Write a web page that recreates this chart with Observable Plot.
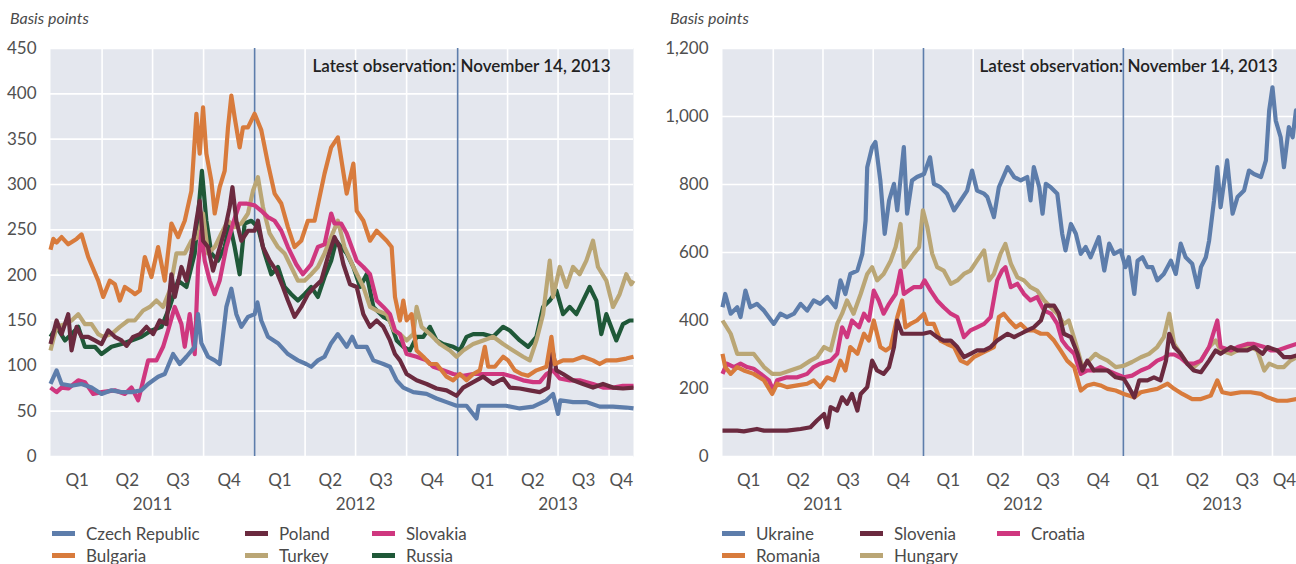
<!DOCTYPE html>
<html><head><meta charset="utf-8">
<script src="https://cdn.jsdelivr.net/npm/d3@7"></script>
<script src="https://cdn.jsdelivr.net/npm/@observablehq/plot@0.6"></script>
<style>
body{margin:0;background:#fff;font-family:Lato,"Open Sans",sans-serif;}
#wrap{position:relative;width:1296px;height:564px;overflow:hidden;background:#fff}
.panel{position:absolute;top:0;width:648px;height:564px}
.unit{position:absolute;top:8px;font-style:italic;font-size:16px;color:#4a4a4a}
.legend{position:absolute;top:522px;display:grid;grid-auto-flow:row;row-gap:0px;font-size:17px;color:#4a4a4a}
.item{display:flex;align-items:center;height:22px;white-space:nowrap}
.sw{display:inline-block;width:23px;height:5px;margin-right:11px}
</style></head><body>
<div id="wrap"></div>
<script>
// ---------- data ----------
const unitLabel = "Basis points";
const latestNote = "Latest observation: November 14, 2013";
const startDate = "2010-12-29";
const endDate = "2013-11-14";
const years = [2011, 2012, 2013];
const quarterNames = ["Q1", "Q2", "Q3", "Q4"];
const leftYTicks = [0, 50, 100, 150, 200, 250, 300, 350, 400, 450];
const rightYTicks = [0, 200, 400, 600, 800, 1000, 1200];

const czechRepublic = [["2010-12-29",80],["2011-01-09",95],["2011-01-18",80],["2011-02-05",78],["2011-02-23",80],["2011-03-13",76],["2011-03-31",69],["2011-04-18",73],["2011-05-06",71],["2011-05-24",71],["2011-06-11",73],["2011-06-23",80],["2011-07-11",88],["2011-07-23",91],["2011-08-07",113],["2011-08-19",102],["2011-08-31",110],["2011-09-15",121],["2011-09-21",157],["2011-09-27",125],["2011-10-09",110],["2011-10-21",106],["2011-10-30",102],["2011-11-11",165],["2011-11-20",185],["2011-11-29",157],["2011-12-08",143],["2011-12-20",154],["2012-01-01",157],["2012-01-06",170],["2012-01-13",150],["2012-01-25",132],["2012-02-12",125],["2012-03-01",113],["2012-03-19",106],["2012-04-03",102],["2012-04-12",99],["2012-04-24",106],["2012-05-06",110],["2012-05-18",125],["2012-05-30",135],["2012-06-15",121],["2012-06-25",132],["2012-07-03",121],["2012-07-21",121],["2012-08-02",106],["2012-08-20",102],["2012-09-01",99],["2012-09-13",84],["2012-09-25",76],["2012-10-13",71],["2012-11-06",69],["2012-11-24",64],["2012-12-12",60],["2012-12-30",56],["2013-01-17",56],["2013-02-04",42],["2013-02-08",56],["2013-03-06",56],["2013-03-29",56],["2013-04-23",53],["2013-05-17",55],["2013-06-10",62],["2013-06-22",69],["2013-07-01",47],["2013-07-05",62],["2013-07-28",60],["2013-08-21",60],["2013-09-14",55],["2013-10-08",55],["2013-11-01",54],["2013-11-14",53]];

const bulgaria = [["2010-12-29",228],["2011-01-03",240],["2011-01-09",236],["2011-01-18",242],["2011-01-30",234],["2011-02-14",240],["2011-02-23",245],["2011-03-07",220],["2011-03-25",194],["2011-04-03",176],["2011-04-15",194],["2011-04-24",190],["2011-05-03",172],["2011-05-12",187],["2011-05-24",182],["2011-05-30",179],["2011-06-08",183],["2011-06-17",220],["2011-06-29",198],["2011-07-11",231],["2011-07-23",194],["2011-08-04",257],["2011-08-16",242],["2011-08-28",260],["2011-09-09",293],["2011-09-18",378],["2011-09-24",334],["2011-09-30",385],["2011-10-06",334],["2011-10-15",304],["2011-10-21",268],["2011-10-30",297],["2011-11-08",315],["2011-11-14",363],["2011-11-20",398],["2011-11-26",374],["2011-12-05",341],["2011-12-11",363],["2011-12-20",363],["2012-01-01",378],["2012-01-13",360],["2012-01-25",323],["2012-02-06",290],["2012-02-18",279],["2012-03-01",253],["2012-03-13",231],["2012-03-25",238],["2012-04-06",260],["2012-04-18",260],["2012-05-06",312],["2012-05-18",341],["2012-05-30",352],["2012-06-15",290],["2012-06-27",323],["2012-07-03",271],["2012-07-15",260],["2012-07-27",238],["2012-08-08",249],["2012-08-26",238],["2012-09-04",231],["2012-09-10",176],["2012-09-19",150],["2012-09-25",172],["2012-10-01",150],["2012-10-10",157],["2012-10-19",117],["2012-10-31",110],["2012-11-12",102],["2012-11-24",102],["2012-12-12",88],["2012-12-24",84],["2013-01-05",91],["2013-01-17",84],["2013-01-29",91],["2013-02-10",95],["2013-02-19",121],["2013-02-25",99],["2013-03-09",99],["2013-03-24",110],["2013-04-02",106],["2013-04-14",95],["2013-04-26",91],["2013-05-08",89],["2013-05-23",95],["2013-06-10",99],["2013-06-19",132],["2013-06-25",102],["2013-07-10",106],["2013-07-28",106],["2013-08-15",110],["2013-09-02",106],["2013-09-14",102],["2013-09-26",106],["2013-10-14",106],["2013-11-01",108],["2013-11-14",110]];

const poland = [["2010-12-29",124],["2011-01-09",150],["2011-01-18",135],["2011-01-30",157],["2011-02-05",117],["2011-02-14",143],["2011-02-23",132],["2011-03-07",132],["2011-03-19",128],["2011-03-31",124],["2011-04-12",139],["2011-04-24",132],["2011-05-06",128],["2011-05-15",122],["2011-05-27",132],["2011-06-08",135],["2011-06-20",143],["2011-07-02",135],["2011-07-14",150],["2011-07-26",146],["2011-08-04",201],["2011-08-10",176],["2011-08-22",209],["2011-08-31",194],["2011-09-09",224],["2011-09-18",260],["2011-09-24",282],["2011-09-30",238],["2011-10-09",231],["2011-10-18",205],["2011-10-27",224],["2011-11-08",249],["2011-11-17",275],["2011-11-22",297],["2011-11-29",260],["2011-12-08",238],["2011-12-20",249],["2012-01-01",249],["2012-01-07",260],["2012-01-16",231],["2012-01-28",216],["2012-02-09",205],["2012-02-21",187],["2012-03-01",172],["2012-03-13",154],["2012-03-25",165],["2012-04-06",179],["2012-04-18",187],["2012-04-30",194],["2012-05-12",220],["2012-05-24",242],["2012-06-02",231],["2012-06-09",212],["2012-06-21",190],["2012-07-03",187],["2012-07-15",157],["2012-07-27",143],["2012-08-08",150],["2012-08-20",143],["2012-09-01",128],["2012-09-10",113],["2012-09-19",106],["2012-10-01",91],["2012-10-19",84],["2012-11-06",80],["2012-11-24",75],["2012-12-12",73],["2012-12-30",67],["2013-01-11",76],["2013-01-29",82],["2013-02-16",88],["2013-03-06",80],["2013-03-24",86],["2013-04-05",76],["2013-04-23",75],["2013-05-11",73],["2013-05-29",71],["2013-06-13",76],["2013-06-21",117],["2013-06-28",95],["2013-07-10",91],["2013-07-28",84],["2013-08-15",80],["2013-09-02",76],["2013-09-20",80],["2013-10-08",76],["2013-10-26",75],["2013-11-14",76]];

const turkey = [["2010-12-29",117],["2011-01-09",143],["2011-01-24",146],["2011-02-05",150],["2011-02-17",157],["2011-03-01",146],["2011-03-13",146],["2011-03-25",135],["2011-04-03",132],["2011-04-18",135],["2011-05-03",143],["2011-05-18",150],["2011-05-30",150],["2011-06-14",161],["2011-06-26",165],["2011-07-08",172],["2011-07-20",165],["2011-08-01",183],["2011-08-13",224],["2011-08-28",224],["2011-09-09",238],["2011-09-21",242],["2011-09-30",268],["2011-10-09",224],["2011-10-21",231],["2011-11-02",246],["2011-11-14",260],["2011-11-26",253],["2011-12-08",257],["2011-12-20",268],["2011-12-29",293],["2012-01-07",308],["2012-01-16",275],["2012-01-28",246],["2012-02-12",231],["2012-02-24",224],["2012-03-07",209],["2012-03-19",194],["2012-03-31",194],["2012-04-12",201],["2012-04-24",209],["2012-05-06",224],["2012-05-18",242],["2012-05-30",260],["2012-06-11",231],["2012-06-27",209],["2012-07-15",187],["2012-07-27",165],["2012-08-08",161],["2012-08-26",157],["2012-09-08",139],["2012-09-19",135],["2012-10-01",128],["2012-10-13",135],["2012-10-19",165],["2012-10-28",143],["2012-11-12",135],["2012-11-30",124],["2012-12-18",117],["2012-12-30",110],["2013-01-11",117],["2013-01-29",124],["2013-02-16",128],["2013-03-06",132],["2013-03-24",124],["2013-04-11",117],["2013-04-29",110],["2013-05-11",106],["2013-05-23",128],["2013-06-04",157],["2013-06-16",216],["2013-06-22",176],["2013-07-04",209],["2013-07-16",187],["2013-07-28",209],["2013-08-09",201],["2013-08-21",216],["2013-09-02",238],["2013-09-11",209],["2013-09-26",194],["2013-10-08",165],["2013-10-20",179],["2013-11-01",201],["2013-11-10",190],["2013-11-14",194]];

const slovakia = [["2010-12-29",76],["2011-01-09",71],["2011-01-18",76],["2011-01-30",75],["2011-02-17",84],["2011-03-01",82],["2011-03-16",69],["2011-03-31",71],["2011-04-24",73],["2011-05-12",69],["2011-05-24",76],["2011-06-05",62],["2011-06-11",76],["2011-06-23",106],["2011-07-08",106],["2011-07-20",121],["2011-07-29",139],["2011-08-10",165],["2011-08-22",146],["2011-08-28",121],["2011-09-06",157],["2011-09-15",113],["2011-09-21",209],["2011-09-27",249],["2011-10-03",216],["2011-10-12",194],["2011-10-21",179],["2011-10-30",194],["2011-11-11",231],["2011-11-23",257],["2011-12-05",279],["2011-12-17",279],["2012-01-01",277],["2012-01-13",271],["2012-01-25",264],["2012-02-06",260],["2012-02-18",249],["2012-03-01",231],["2012-03-16",212],["2012-03-28",201],["2012-04-12",212],["2012-04-24",231],["2012-05-06",234],["2012-05-18",268],["2012-05-24",257],["2012-06-05",257],["2012-06-15",246],["2012-07-03",216],["2012-07-15",209],["2012-07-27",201],["2012-08-08",172],["2012-08-20",165],["2012-09-01",157],["2012-09-10",139],["2012-09-19",135],["2012-10-01",113],["2012-10-19",110],["2012-11-06",106],["2012-11-18",99],["2012-12-07",95],["2012-12-24",91],["2013-01-11",89],["2013-01-29",91],["2013-02-16",91],["2013-03-06",91],["2013-03-24",91],["2013-04-11",88],["2013-04-29",84],["2013-05-17",82],["2013-05-29",82],["2013-06-10",91],["2013-06-22",95],["2013-07-04",86],["2013-07-22",84],["2013-08-09",84],["2013-09-02",80],["2013-09-20",76],["2013-10-08",76],["2013-10-26",78],["2013-11-14",78]];

const russia = [["2010-12-29",132],["2011-01-09",143],["2011-01-24",128],["2011-02-05",135],["2011-02-17",143],["2011-03-01",121],["2011-03-19",121],["2011-03-31",113],["2011-04-18",121],["2011-05-06",124],["2011-05-24",128],["2011-06-11",132],["2011-06-29",139],["2011-07-17",143],["2011-08-01",165],["2011-08-16",194],["2011-08-31",187],["2011-09-15",224],["2011-09-28",315],["2011-10-06",260],["2011-10-15",224],["2011-10-27",216],["2011-11-08",231],["2011-11-17",257],["2011-11-26",231],["2011-12-05",201],["2011-12-14",257],["2011-12-26",260],["2012-01-07",253],["2012-01-19",224],["2012-01-31",201],["2012-02-12",209],["2012-02-24",187],["2012-03-07",179],["2012-03-19",172],["2012-03-31",179],["2012-04-12",187],["2012-04-24",176],["2012-05-06",198],["2012-05-18",216],["2012-05-27",238],["2012-06-05",231],["2012-06-15",224],["2012-06-27",209],["2012-07-09",187],["2012-07-21",201],["2012-08-02",165],["2012-08-20",154],["2012-09-01",150],["2012-09-13",128],["2012-09-25",121],["2012-10-07",117],["2012-10-19",132],["2012-10-31",132],["2012-11-12",143],["2012-11-24",128],["2012-12-06",124],["2012-12-24",121],["2013-01-05",117],["2013-01-17",132],["2013-01-29",135],["2013-02-16",135],["2013-03-06",132],["2013-03-24",143],["2013-04-05",139],["2013-04-23",128],["2013-05-08",121],["2013-05-23",132],["2013-06-04",165],["2013-06-16",172],["2013-06-28",183],["2013-07-10",157],["2013-07-22",165],["2013-08-03",157],["2013-08-15",172],["2013-08-27",187],["2013-09-08",172],["2013-09-17",135],["2013-09-26",157],["2013-10-14",128],["2013-10-26",146],["2013-11-07",150],["2013-11-14",150]];

const ukraine = [["2010-12-29",439],["2011-01-03",478],["2011-01-13",420],["2011-01-25",439],["2011-01-31",410],["2011-02-09",488],["2011-02-18",439],["2011-03-02",449],["2011-03-15",429],["2011-04-02",390],["2011-04-14",420],["2011-04-26",410],["2011-05-09",420],["2011-05-21",449],["2011-06-02",429],["2011-06-14",459],["2011-06-26",449],["2011-07-09",469],["2011-07-24",439],["2011-08-02",518],["2011-08-11",478],["2011-08-20",537],["2011-09-02",547],["2011-09-11",596],["2011-09-17",694],["2011-09-20",851],["2011-09-29",910],["2011-10-05",925],["2011-10-14",812],["2011-10-22",655],["2011-10-30",753],["2011-11-08",802],["2011-11-14",724],["2011-11-26",910],["2011-12-02",714],["2011-12-11",812],["2011-12-20",822],["2012-01-02",831],["2012-01-13",880],["2012-01-20",802],["2012-02-01",792],["2012-02-13",773],["2012-02-26",724],["2012-03-09",753],["2012-03-21",782],["2012-03-30",841],["2012-04-08",782],["2012-04-21",773],["2012-04-27",763],["2012-05-09",704],["2012-05-18",792],["2012-06-03",851],["2012-06-15",822],["2012-06-27",812],["2012-07-09",822],["2012-07-15",753],["2012-07-21",851],["2012-07-31",792],["2012-08-06",714],["2012-08-12",802],["2012-08-21",792],["2012-09-02",773],["2012-09-11",655],["2012-09-17",606],["2012-09-27",684],["2012-10-06",655],["2012-10-15",596],["2012-10-24",616],["2012-11-02",586],["2012-11-17",645],["2012-11-27",547],["2012-12-06",626],["2012-12-15",596],["2012-12-27",606],["2013-01-05",557],["2013-01-11",586],["2013-01-21",478],["2013-01-27",576],["2013-02-05",586],["2013-02-14",557],["2013-02-23",557],["2013-03-04",518],["2013-03-16",537],["2013-03-29",576],["2013-04-07",537],["2013-04-16",626],["2013-04-25",586],["2013-05-07",567],["2013-05-17",498],["2013-05-23",557],["2013-06-01",586],["2013-06-07",635],["2013-06-16",753],["2013-06-22",851],["2013-06-28",733],["2013-07-10",871],["2013-07-20",714],["2013-07-29",763],["2013-08-10",782],["2013-08-19",841],["2013-08-28",831],["2013-09-10",822],["2013-09-19",871],["2013-09-25",1018],["2013-10-01",1086],["2013-10-07",988],["2013-10-16",939],["2013-10-22",851],["2013-10-31",969],["2013-11-07",939],["2013-11-13",1018],["2013-11-14",998]];

const romania = [["2010-12-29",302],["2011-01-03",263],["2011-01-13",243],["2011-01-25",263],["2011-02-06",253],["2011-02-24",243],["2011-03-15",224],["2011-03-30",184],["2011-04-08",214],["2011-04-26",204],["2011-05-15",209],["2011-06-02",214],["2011-06-14",224],["2011-06-26",204],["2011-07-09",233],["2011-07-21",224],["2011-08-02",282],["2011-08-11",253],["2011-08-20",322],["2011-09-02",302],["2011-09-14",361],["2011-09-23",341],["2011-10-02",400],["2011-10-14",322],["2011-10-24",312],["2011-11-02",322],["2011-11-14",410],["2011-11-23",459],["2011-11-29",380],["2011-12-08",390],["2011-12-20",400],["2012-01-02",420],["2012-01-08",390],["2012-01-20",390],["2012-02-01",341],["2012-02-13",331],["2012-02-26",322],["2012-03-09",282],["2012-03-21",273],["2012-04-02",292],["2012-04-14",302],["2012-04-27",312],["2012-05-09",322],["2012-05-18",410],["2012-05-27",420],["2012-06-06",400],["2012-06-18",380],["2012-06-27",390],["2012-07-09",371],["2012-07-21",371],["2012-08-03",361],["2012-08-15",361],["2012-08-27",341],["2012-09-08",312],["2012-09-20",282],["2012-10-03",263],["2012-10-15",194],["2012-10-27",209],["2012-11-08",214],["2012-11-20",209],["2012-12-03",199],["2012-12-18",194],["2013-01-02",184],["2013-01-21",174],["2013-02-02",189],["2013-02-17",194],["2013-03-04",199],["2013-03-23",214],["2013-04-04",199],["2013-04-19",184],["2013-05-07",169],["2013-05-23",169],["2013-06-10",179],["2013-06-22",224],["2013-07-01",189],["2013-07-17",184],["2013-08-04",189],["2013-08-22",189],["2013-09-10",184],["2013-09-22",174],["2013-10-10",164],["2013-10-28",164],["2013-11-14",169]];

const slovenia = [["2010-12-29",76],["2011-01-25",76],["2011-02-06",74],["2011-03-02",81],["2011-03-15",76],["2011-04-02",76],["2011-04-26",76],["2011-05-21",81],["2011-06-08",86],["2011-06-20",106],["2011-07-03",125],["2011-07-09",86],["2011-07-15",145],["2011-07-27",135],["2011-08-05",174],["2011-08-14",155],["2011-08-23",184],["2011-09-02",135],["2011-09-08",184],["2011-09-20",204],["2011-09-29",282],["2011-10-08",253],["2011-10-20",243],["2011-10-30",263],["2011-11-08",322],["2011-11-14",400],["2011-11-23",361],["2011-12-02",361],["2011-12-14",361],["2011-12-31",361],["2012-01-14",366],["2012-01-26",351],["2012-02-07",341],["2012-02-20",341],["2012-03-03",322],["2012-03-15",292],["2012-03-27",302],["2012-04-08",312],["2012-04-21",312],["2012-05-03",322],["2012-05-15",341],["2012-06-03",361],["2012-06-15",351],["2012-06-27",361],["2012-07-09",371],["2012-07-21",380],["2012-08-03",400],["2012-08-12",444],["2012-08-27",444],["2012-09-05",420],["2012-09-14",361],["2012-09-27",351],["2012-10-09",302],["2012-10-18",253],["2012-10-27",282],["2012-11-08",253],["2012-11-20",253],["2012-12-03",253],["2012-12-18",233],["2013-01-02",228],["2013-01-11",204],["2013-01-21",174],["2013-01-30",224],["2013-02-14",224],["2013-02-26",233],["2013-03-10",224],["2013-03-20",282],["2013-03-26",361],["2013-04-04",322],["2013-04-16",302],["2013-04-28",273],["2013-05-10",253],["2013-05-23",248],["2013-06-07",282],["2013-06-19",312],["2013-06-28",302],["2013-07-17",322],["2013-07-29",312],["2013-08-16",312],["2013-08-28",322],["2013-09-13",302],["2013-09-22",322],["2013-10-10",312],["2013-10-22",292],["2013-11-03",292],["2013-11-14",297]];

const hungary = [["2010-12-29",400],["2011-01-13",361],["2011-01-25",302],["2011-02-06",302],["2011-02-24",302],["2011-03-15",263],["2011-03-30",243],["2011-04-14",243],["2011-05-02",253],["2011-05-21",263],["2011-06-08",282],["2011-06-20",292],["2011-07-03",322],["2011-07-15",312],["2011-07-27",390],["2011-08-05",420],["2011-08-14",459],["2011-08-26",420],["2011-09-08",478],["2011-09-20",537],["2011-09-29",557],["2011-10-08",518],["2011-10-20",537],["2011-11-02",576],["2011-11-11",616],["2011-11-20",684],["2011-11-26",557],["2011-12-05",576],["2011-12-14",596],["2011-12-24",616],["2011-12-31",724],["2012-01-08",675],["2012-01-17",596],["2012-01-26",557],["2012-02-07",547],["2012-02-20",508],["2012-03-03",518],["2012-03-15",537],["2012-03-27",547],["2012-04-08",576],["2012-04-21",606],["2012-04-30",518],["2012-05-09",537],["2012-05-21",596],["2012-05-30",625],["2012-06-09",567],["2012-06-21",527],["2012-07-03",518],["2012-07-15",498],["2012-07-27",488],["2012-08-09",459],["2012-08-21",439],["2012-09-02",420],["2012-09-14",390],["2012-09-23",400],["2012-10-06",331],["2012-10-18",263],["2012-10-30",282],["2012-11-11",302],["2012-11-20",292],["2012-12-03",282],["2012-12-18",263],["2013-01-02",267],["2013-01-17",278],["2013-02-02",292],["2013-02-17",302],["2013-03-04",322],["2013-03-16",351],["2013-03-26",420],["2013-04-04",331],["2013-04-16",302],["2013-04-28",273],["2013-05-10",263],["2013-05-23",282],["2013-06-07",322],["2013-06-19",341],["2013-06-28",312],["2013-07-17",302],["2013-07-29",312],["2013-08-10",322],["2013-08-22",322],["2013-09-03",312],["2013-09-16",253],["2013-09-25",273],["2013-10-10",263],["2013-10-22",263],["2013-11-03",282],["2013-11-14",292]];

const croatia = [["2010-12-29",243],["2011-01-06",273],["2011-01-19",263],["2011-01-31",273],["2011-02-12",263],["2011-02-24",258],["2011-03-09",243],["2011-03-24",224],["2011-04-01",194],["2011-04-08",224],["2011-04-26",233],["2011-05-15",233],["2011-06-02",243],["2011-06-14",263],["2011-06-26",273],["2011-07-15",282],["2011-07-27",302],["2011-08-05",380],["2011-08-14",351],["2011-08-23",400],["2011-09-05",380],["2011-09-14",420],["2011-09-23",400],["2011-10-02",488],["2011-10-11",459],["2011-10-20",420],["2011-10-30",449],["2011-11-11",478],["2011-11-20",547],["2011-11-26",478],["2011-12-05",488],["2011-12-14",498],["2011-12-27",498],["2012-01-03",518],["2012-01-14",488],["2012-01-26",459],["2012-02-07",439],["2012-02-20",420],["2012-03-03",410],["2012-03-15",351],["2012-03-27",371],["2012-04-08",380],["2012-04-21",390],["2012-05-03",410],["2012-05-15",518],["2012-05-24",547],["2012-05-30",557],["2012-06-09",498],["2012-06-21",508],["2012-07-03",478],["2012-07-15",459],["2012-07-27",469],["2012-08-09",429],["2012-08-21",420],["2012-09-02",390],["2012-09-11",341],["2012-09-20",322],["2012-10-03",302],["2012-10-15",243],["2012-10-27",253],["2012-11-08",253],["2012-11-20",263],["2012-12-03",253],["2012-12-18",243],["2013-01-02",233],["2013-01-17",238],["2013-02-02",253],["2013-02-17",263],["2013-03-04",282],["2013-03-16",290],["2013-03-26",300],["2013-04-04",300],["2013-04-16",290],["2013-04-28",273],["2013-05-10",273],["2013-05-23",282],["2013-06-07",322],["2013-06-22",400],["2013-06-28",322],["2013-07-17",312],["2013-07-29",322],["2013-08-16",331],["2013-08-28",331],["2013-09-16",322],["2013-09-28",312],["2013-10-10",312],["2013-10-28",322],["2013-11-14",331]];

// ---------- panels ----------
const leftSeries = [
  {name: "Czech Republic", values: czechRepublic},
  {name: "Poland", values: poland},
  {name: "Slovakia", values: slovakia},
  {name: "Bulgaria", values: bulgaria},
  {name: "Turkey", values: turkey},
  {name: "Russia", values: russia}
];
const rightSeries = [
  {name: "Ukraine", values: ukraine},
  {name: "Slovenia", values: slovenia},
  {name: "Croatia", values: croatia},
  {name: "Romania", values: romania},
  {name: "Hungary", values: hungary}
];

// ---------- styles ----------
const FONT = "Lato, 'Open Sans', sans-serif";
const BLUE = "#5d7dab";
const colors = {
  "Czech Republic": BLUE, "Ukraine": BLUE,
  "Bulgaria": "#d87b3c", "Romania": "#d87b3c",
  "Poland": "#6b2a3f", "Slovenia": "#6b2a3f",
  "Turkey": "#baa675", "Hungary": "#baa675",
  "Slovakia": "#cf377f", "Croatia": "#cf377f",
  "Russia": "#1f5838"
};
const leftDrawOrder = ["Russia", "Turkey", "Slovakia", "Poland", "Bulgaria", "Czech Republic"];
const rightDrawOrder = ["Hungary", "Croatia", "Romania", "Slovenia", "Ukraine"];

const d0 = new Date(startDate), d1 = new Date(endDate);
const utc = (y, m, d) => new Date(Date.UTC(y, m, d));
const quarterStarts = [], quarterTicks = [];
for (const y of years) {
  quarterNames.forEach((q, i) => {
    const s = utc(y, i * 3, 1), e = utc(y, i * 3 + 3, 1);
    if (s < d1 && i > 0) quarterStarts.push(s);
    const a = s < d0 ? d0 : s, b = e > d1 ? d1 : e;
    if (a < b) quarterTicks.push({date: new Date((+a + +b) / 2), label: q});
  });
}
const yearStarts = years.slice(1).map(y => utc(y, 0, 1)).filter(d => d < d1);
const yearTicks = years.map(y => ({date: utc(y, 6, 1), label: String(y)}));

function makePanel({series, order, yTicks, marginLeft, marginRight, noteDx}) {
  const byName = new Map(series.map(s => [s.name, s]));
  const lines = order.map(n => Plot.line(byName.get(n).values, {
    x: d => new Date(d[0]), y: d => d[1], stroke: colors[n], strokeWidth: 4.2,
    strokeLinejoin: "round", strokeLinecap: "butt"
  }));
  const fmt = d3.format(",");
  return Plot.plot({
    width: 648, height: 515,
    marginTop: 48, marginBottom: 59, marginLeft, marginRight,
    style: {fontFamily: FONT, fontSize: "17px", background: "transparent", overflow: "visible"},
    x: {type: "utc", domain: [d0, d1], axis: null},
    y: {domain: [0, yTicks[yTicks.length - 1]], axis: null},
    marks: [
      Plot.frame({fill: "#e4e7ee", stroke: null}),
      Plot.ruleY(yTicks, {stroke: "#ffffff", strokeWidth: 1.6}),
      Plot.ruleX(quarterStarts, {stroke: "#ffffff", strokeWidth: 1.6}),
      Plot.ruleX(yearStarts, {stroke: BLUE, strokeWidth: 1.6}),
      Plot.text(yTicks, {y: d => d, text: d => fmt(d), frameAnchor: "left", dx: -14, textAnchor: "end", fill: "#505050", fontSize: 17}),
      Plot.text(quarterTicks, {x: "date", text: "label", frameAnchor: "bottom", dy: 17, lineAnchor: "top", fill: "#505050", fontSize: 17}),
      Plot.text(yearTicks, {x: "date", text: "label", frameAnchor: "bottom", dy: 41, lineAnchor: "top", fill: "#505050", fontSize: 17}),
      ...lines,
      Plot.text([latestNote], {text: d => d, frameAnchor: "top-right", dx: noteDx, dy: 11, lineAnchor: "top", textAnchor: "end", fill: "#222", fontSize: 17, fontWeight: 600})
    ]
  });
}

function makeLegend(series, left, cols) {
  const div = document.createElement("div");
  div.className = "legend";
  div.style.left = left + "px";
  div.style.gridTemplateColumns = cols.map(c => c + "px").join(" ");
  for (const s of series) {
    const it = document.createElement("div");
    it.className = "item";
    const sw = document.createElement("span");
    sw.className = "sw"; sw.style.background = colors[s.name];
    it.appendChild(sw);
    it.appendChild(document.createTextNode(s.name));
    div.appendChild(it);
  }
  return div;
}

const wrap = document.getElementById("wrap");
function addPanel(x, cfg, legendLeft, legendCols, unitLeft) {
  const p = document.createElement("div");
  p.className = "panel"; p.style.left = x + "px";
  const svg = makePanel(cfg);
  svg.style.position = "absolute"; svg.style.left = "0px"; svg.style.top = "0px";
  p.appendChild(svg);
  const u = document.createElement("div");
  u.className = "unit"; u.style.left = unitLeft + "px"; u.textContent = unitLabel;
  p.appendChild(u);
  p.appendChild(makeLegend(cfg.series, legendLeft, legendCols));
  wrap.appendChild(p);
}
addPanel(0, {series: leftSeries, order: leftDrawOrder, yTicks: leftYTicks, marginLeft: 50, marginRight: 15, noteDx: -23}, 52, [193, 127, 130], 10);
addPanel(648, {series: rightSeries, order: rightDrawOrder, yTicks: rightYTicks, marginLeft: 74, marginRight: 0, noteDx: -19}, 74, [138, 137, 130], 22);
</script>
</body></html>
